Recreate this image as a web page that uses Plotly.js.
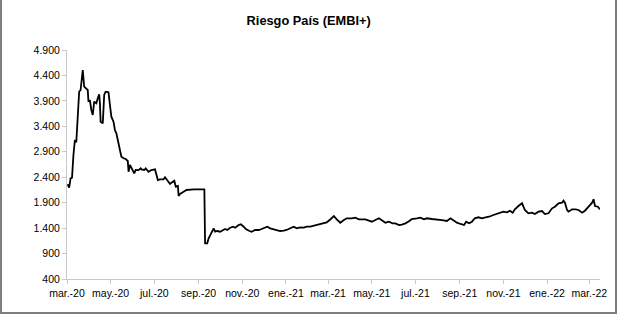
<!DOCTYPE html>
<html>
<head>
<meta charset="utf-8">
<script src="https://cdn.plot.ly/plotly-3.0.1.min.js"></script>
<style>
html,body{margin:0;padding:0;background:#fff;}
#chart{width:617px;height:314px;box-sizing:border-box;border-left:2px solid #7f7f7f;border-right:2px solid #7f7f7f;border-bottom:2px solid #7f7f7f;}
</style>
</head>
<body>
<div id="chart"></div>
<script>
const dates = [
'2020-03-02','2020-03-04','2020-03-06','2020-03-08','2020-03-10','2020-03-12','2020-03-14','2020-03-16','2020-03-18','2020-03-20',
'2020-03-21','2020-03-23','2020-03-25','2020-03-27','2020-03-30','2020-03-31','2020-04-02','2020-04-04','2020-04-06','2020-04-08',
'2020-04-11','2020-04-13','2020-04-15','2020-04-16','2020-04-17','2020-04-20','2020-04-22','2020-04-24','2020-04-28','2020-04-30',
'2020-05-02','2020-05-05','2020-05-07','2020-05-09','2020-05-12','2020-05-14','2020-05-16','2020-05-19','2020-05-22','2020-05-25',
'2020-05-26','2020-05-28','2020-05-30','2020-06-03','2020-06-05','2020-06-09','2020-06-12','2020-06-13','2020-06-17','2020-06-19',
'2020-06-23','2020-06-27','2020-07-02','2020-07-06','2020-07-09','2020-07-14','2020-07-16','2020-07-20','2020-07-23','2020-07-25',
'2020-07-29','2020-07-31','2020-08-03','2020-08-04','2020-08-06','2020-08-11','2020-08-15','2020-08-25','2020-09-01','2020-09-08',
'2020-09-09','2020-09-10','2020-09-13','2020-09-15','2020-09-17','2020-09-19','2020-09-22','2020-09-24','2020-09-27','2020-10-01',
'2020-10-05','2020-10-08','2020-10-11','2020-10-15','2020-10-19','2020-10-22','2020-10-27','2020-10-30','2020-11-03','2020-11-06',
'2020-11-11','2020-11-14','2020-11-19','2020-11-24','2020-11-28','2020-12-03','2020-12-06','2020-12-10','2020-12-15','2020-12-19',
'2020-12-24','2020-12-29','2021-01-02','2021-01-07','2021-01-12','2021-01-16','2021-01-21','2021-01-26','2021-01-30','2021-02-04',
'2021-02-09','2021-02-13','2021-02-18','2021-02-23','2021-02-27','2021-03-04','2021-03-09','2021-03-13','2021-03-18','2021-03-23',
'2021-03-27','2021-04-03','2021-04-08','2021-04-13','2021-04-17','2021-04-22','2021-04-27','2021-05-01','2021-05-06','2021-05-11',
'2021-05-16','2021-05-20','2021-05-25','2021-05-30','2021-06-03','2021-06-08','2021-06-12','2021-06-17','2021-06-22','2021-06-26',
'2021-07-03','2021-07-08','2021-07-13','2021-07-17','2021-07-24','2021-07-31','2021-08-07','2021-08-14','2021-08-19','2021-08-24',
'2021-08-28','2021-09-02','2021-09-07','2021-09-10','2021-09-14','2021-09-18','2021-09-22','2021-09-27','2021-10-02','2021-10-07',
'2021-10-12','2021-10-18','2021-10-23','2021-10-27','2021-11-01','2021-11-06','2021-11-10','2021-11-14','2021-11-17','2021-11-22',
'2021-11-27','2021-11-29','2021-12-01','2021-12-06','2021-12-11','2021-12-15','2021-12-20','2021-12-25','2021-12-29','2022-01-03',
'2022-01-08','2022-01-12','2022-01-17','2022-01-22','2022-01-24','2022-01-26','2022-01-29','2022-01-31','2022-02-05','2022-02-10',
'2022-02-14','2022-02-19','2022-02-23','2022-02-28','2022-03-05','2022-03-07','2022-03-09','2022-03-13','2022-03-16'
];
const embi = [
2261,2194,2379,2390,2836,3131,3086,3491,4080,4114,
4212,4507,4179,4147,4114,3884,3917,3721,3623,3884,
3853,3951,4029,3853,3491,3459,4016,4080,4069,3819,
3589,3491,3328,3263,3033,2935,2803,2772,2758,2719,
2508,2640,2590,2477,2542,2540,2575,2555,2542,2575,
2508,2542,2555,2345,2359,2359,2398,2332,2267,2293,
2332,2214,2227,2031,2070,2115,2149,2163,2163,2163,
2163,1101,1101,1200,1265,1329,1396,1329,1343,1329,
1363,1382,1363,1408,1428,1408,1461,1475,1428,1382,
1343,1329,1363,1363,1382,1408,1428,1396,1376,1363,
1343,1349,1363,1396,1428,1396,1415,1408,1428,1428,
1448,1461,1475,1494,1514,1570,1638,1573,1506,1559,
1593,1593,1605,1573,1579,1573,1546,1526,1559,1593,
1546,1506,1526,1494,1494,1461,1470,1494,1536,1579,
1593,1605,1573,1593,1579,1573,1559,1540,1593,1546,
1506,1481,1461,1526,1494,1526,1593,1613,1593,1613,
1624,1658,1677,1691,1723,1711,1742,1703,1769,1834,
1888,1821,1756,1691,1703,1677,1723,1736,1677,1691,
1789,1821,1888,1899,1939,1899,1756,1723,1769,1769,
1756,1703,1742,1821,1899,1966,1834,1821,1769
];
const tickDates = ['2020-03-01','2020-05-01','2020-07-01','2020-09-01','2020-11-01','2021-01-01','2021-03-01','2021-05-01','2021-07-01','2021-09-01','2021-11-01','2022-01-01','2022-03-01'];
const tickLabels = ['mar.-20','may.-20','jul.-20','sep.-20','nov.-20','ene.-21','mar.-21','may.-21','jul.-21','sep.-21','nov.-21','ene.-22','mar.-22'];
const yTicks = [400,900,1400,1900,2400,2900,3400,3900,4400,4900];

const trace = {
  x: dates, y: embi, type: 'scatter', mode: 'lines',
  line: {color: '#000000', width: 1.8},
  hoverinfo: 'x+y'
};
const layout = {
  width: 617, height: 314,
  margin: {l: 65, r: 19, t: 50, b: 35},
  paper_bgcolor: 'rgba(0,0,0,0)', plot_bgcolor: '#ffffff',
  separators: ',.',
  font: {family: 'Liberation Sans, Arial, sans-serif', size: 10.5, color: '#000000'},
  title: {text: '<b>Riesgo País (EMBI+)</b>', font: {family: 'Liberation Sans, Arial, sans-serif', size: 12.8, color: '#000'},
          x: 0.497, xanchor: 'center', xref: 'container', y: 0.935, yanchor: 'middle', yref: 'container'},
  showlegend: false,
  xaxis: {
    type: 'date', range: ['2020-03-01', '2022-03-16'],
    tickmode: 'array', tickvals: tickDates, ticktext: tickLabels,
    showgrid: false, zeroline: false,
    showline: true, linecolor: '#c8c8c8', linewidth: 1,
    ticks: 'outside', ticklen: 4, tickcolor: '#c8c8c8', tickwidth: 1,
    tickfont: {size: 10.5, color: '#000'}
  },
  yaxis: {
    range: [400, 4900], tickmode: 'array', tickvals: yTicks,
    tickformat: ',d',
    showgrid: false, zeroline: false,
    showline: true, linecolor: '#c8c8c8', linewidth: 1,
    ticks: 'outside', ticklen: 4, tickcolor: '#c8c8c8', tickwidth: 1,
    tickfont: {size: 10.5, color: '#000'}
  }
};
Plotly.newPlot('chart', [trace], layout, {displayModeBar: false, staticPlot: true});
</script>
</body>
</html>
